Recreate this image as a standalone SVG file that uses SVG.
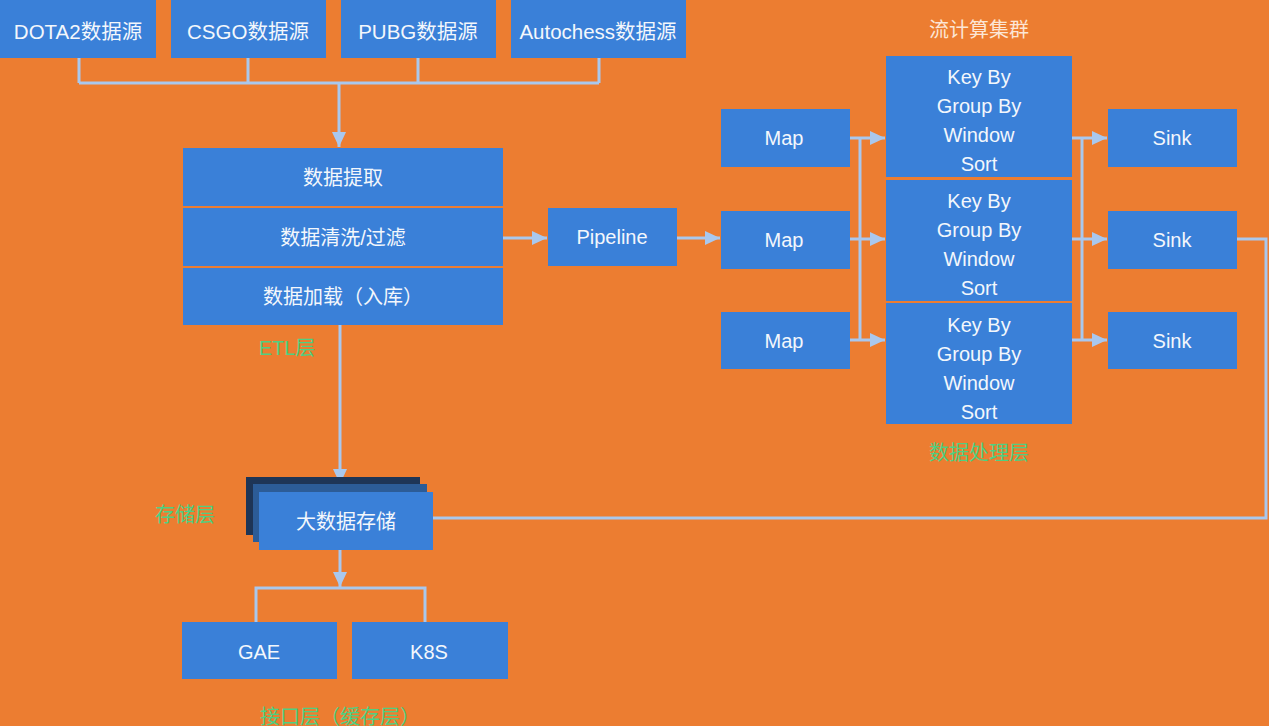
<svg xmlns="http://www.w3.org/2000/svg" width="1269" height="726" viewBox="0 0 1269 726">
<style>
.box{fill:#3A80D8}
.t{font-family:"Liberation Sans","Noto Sans CJK SC",sans-serif;font-size:20px;fill:#F3F7FC;text-anchor:middle;dominant-baseline:central}
.t20{font-size:20.5px}
.lbl{font-family:"Liberation Sans","Noto Sans CJK SC",sans-serif;font-size:20px;fill:#4FCF82;text-anchor:middle;dominant-baseline:central}
.ttl{font-family:"Liberation Sans","Noto Sans CJK SC",sans-serif;font-size:20px;fill:#FCE6D6;text-anchor:middle;dominant-baseline:central}
.ln{fill:none;stroke:#A9C8EE;stroke-width:3}
.div{stroke:#EC7D31;stroke-width:2}
</style>
<defs>
<marker id="ah" markerUnits="userSpaceOnUse" markerWidth="16" markerHeight="16" viewBox="0 0 16 16" refX="15" refY="8" orient="auto">
<path d="M0,1 L15,8 L0,15 Z" fill="#A9C8EE"/>
</marker>
</defs>
<rect width="1269" height="726" fill="#EC7D31"/>

<g id="connectors">
<path class="ln" d="M79,58 V83 M248,58 V83 M418,58 V83 M599,58 V83 M79,83 H599"/>
<path class="ln" d="M339,83 V147" marker-end="url(#ah)"/>
<path class="ln" d="M503,238 H547" marker-end="url(#ah)"/>
<path class="ln" d="M677,238 H720" marker-end="url(#ah)"/>
<path class="ln" d="M860,138 V340"/>
<path class="ln" d="M850,138 H885" marker-end="url(#ah)"/>
<path class="ln" d="M850,239 H885" marker-end="url(#ah)"/>
<path class="ln" d="M850,340 H885" marker-end="url(#ah)"/>
<path class="ln" d="M1082,138 V340"/>
<path class="ln" d="M1072,138 H1107" marker-end="url(#ah)"/>
<path class="ln" d="M1072,239 H1107" marker-end="url(#ah)"/>
<path class="ln" d="M1072,340 H1107" marker-end="url(#ah)"/>
<path class="ln" d="M1237,239 H1266 V518 H433"/>
<path class="ln" d="M340,325 V484" marker-end="url(#ah)"/>
<path class="ln" d="M340,550 V587" marker-end="url(#ah)"/>
<path class="ln" d="M256,622 V588 H425 V622"/>
</g>

<g id="src-dota2"><rect class="box" x="0" y="0" width="156" height="58"/><text class="t t20" x="78" y="31">DOTA2数据源</text></g>
<g id="src-csgo"><rect class="box" x="171" y="0" width="155" height="58"/><text class="t t20" x="248" y="31">CSGO数据源</text></g>
<g id="src-pubg"><rect class="box" x="341" y="0" width="155" height="58"/><text class="t t20" x="418" y="31">PUBG数据源</text></g>
<g id="src-autochess"><rect class="box" x="511" y="0" width="175" height="58"/><text class="t t20" x="598" y="31">Autochess数据源</text></g>

<g id="etl">
<rect class="box" x="183" y="148" width="320" height="177"/>
<line class="div" x1="183" y1="207" x2="503" y2="207"/>
<line class="div" x1="183" y1="267" x2="503" y2="267"/>
<text class="t" x="343" y="178">数据提取</text>
<text class="t" x="343" y="238">数据清洗/过滤</text>
<text class="t" x="343" y="297">数据加载（入库）</text>
</g>
<g id="etl-label"><text class="lbl" x="287" y="348">ETL层</text></g>

<g id="pipeline"><rect class="box" x="548" y="208" width="129" height="58"/><text class="t" x="612" y="237">Pipeline</text></g>

<g id="cluster-title"><text class="ttl" x="979" y="30">流计算集群</text></g>

<g id="map1"><rect class="box" x="721" y="109" width="129" height="58"/><text class="t" x="784" y="138">Map</text></g>
<g id="map2"><rect class="box" x="721" y="211" width="129" height="58"/><text class="t" x="784" y="240">Map</text></g>
<g id="map3"><rect class="box" x="721" y="312" width="129" height="57"/><text class="t" x="784" y="341">Map</text></g>

<g id="op1"><rect class="box" x="886" y="56" width="186" height="121"/>
<text class="t" x="979" y="77">Key By</text><text class="t" x="979" y="106">Group By</text><text class="t" x="979" y="135">Window</text><text class="t" x="979" y="164">Sort</text></g>
<g id="op2"><rect class="box" x="886" y="180" width="186" height="121"/>
<text class="t" x="979" y="201">Key By</text><text class="t" x="979" y="230">Group By</text><text class="t" x="979" y="259">Window</text><text class="t" x="979" y="288">Sort</text></g>
<g id="op3"><rect class="box" x="886" y="303" width="186" height="121"/>
<text class="t" x="979" y="325">Key By</text><text class="t" x="979" y="354">Group By</text><text class="t" x="979" y="383">Window</text><text class="t" x="979" y="412">Sort</text></g>

<g id="sink1"><rect class="box" x="1108" y="109" width="129" height="58"/><text class="t" x="1172" y="138">Sink</text></g>
<g id="sink2"><rect class="box" x="1108" y="211" width="129" height="58"/><text class="t" x="1172" y="240">Sink</text></g>
<g id="sink3"><rect class="box" x="1108" y="312" width="129" height="57"/><text class="t" x="1172" y="341">Sink</text></g>

<g id="proc-label"><text class="lbl" x="979" y="453">数据处理层</text></g>

<g id="storage">
<rect x="246" y="477" width="174" height="58" fill="#1E3556"/>
<rect x="253" y="484" width="174" height="58" fill="#2C5C97"/>
<rect class="box" x="259" y="492" width="174" height="58"/>
<text class="t" x="346" y="522">大数据存储</text>
</g>
<g id="storage-label"><text class="lbl" x="185" y="515">存储层</text></g>

<g id="gae"><rect class="box" x="182" y="622" width="155" height="57"/><text class="t" x="259" y="652">GAE</text></g>
<g id="k8s"><rect class="box" x="352" y="622" width="156" height="57"/><text class="t" x="429" y="652">K8S</text></g>

<g id="api-label"><text class="lbl" x="340" y="717">接口层（缓存层）</text></g>
</svg>
